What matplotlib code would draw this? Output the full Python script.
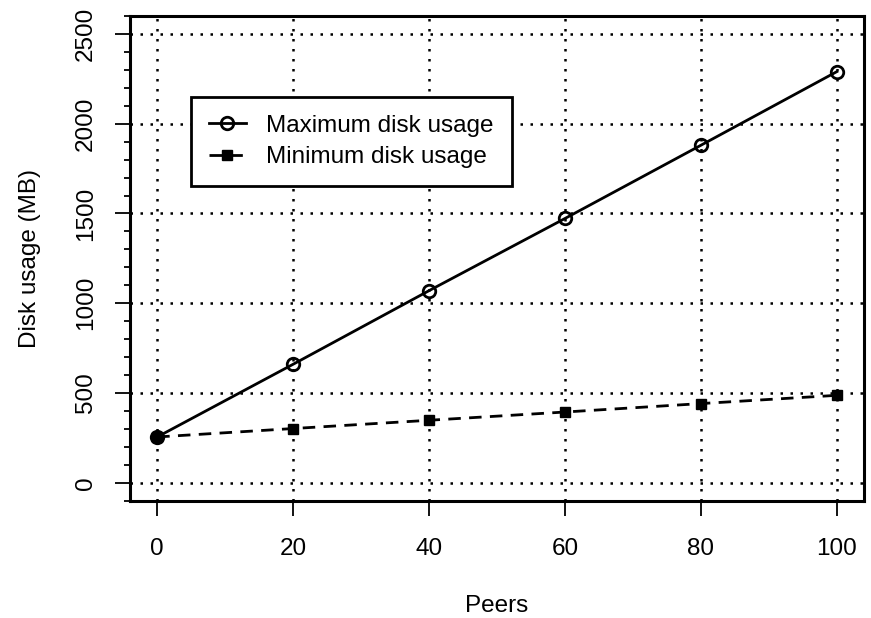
import matplotlib
matplotlib.use("Agg")
import matplotlib.pyplot as plt
from matplotlib.ticker import MultipleLocator

plt.rcParams['font.family'] = ['Liberation Sans', 'DejaVu Sans']

# data
peers = [0, 20, 40, 60, 80, 100]
max_usage = [255, 660, 1070, 1472, 1880, 2290]
min_usage = [255, 302, 348, 394, 441, 487]

x_ticks = [0, 20, 40, 60, 80, 100]
y_ticks = [0, 500, 1000, 1500, 2000, 2500]

fs = 17.5

fig = plt.figure(figsize=[8.71, 6.18], dpi=100)
ax = fig.add_axes([130/871, 1 - 500.7/618, 734/871, 484.7/618])

# dotted grid like R's grid()
dots = (0, (1, 3))
for gx in x_ticks:
    ax.axvline(gx, color='black', lw=1.8, linestyle=dots, zorder=1)
for gy in y_ticks:
    ax.axhline(gy, color='black', lw=1.8, linestyle=dots, zorder=1)

ax.plot(peers, max_usage, color='black', lw=2, marker='o', markersize=9,
        markerfacecolor='none', markeredgewidth=2, label='Maximum disk usage', zorder=3)
ax.plot(peers, min_usage, color='black', lw=2, linestyle=(0, (4.5, 3)),
        marker='s', markersize=7.5, label='Minimum disk usage', zorder=3)

ax.set_xlim(-4, 104)
ax.set_ylim(-100, 2600)
ax.set_xticks(x_ticks)
ax.set_yticks(y_ticks)
ax.yaxis.set_minor_locator(MultipleLocator(100))

ax.tick_params(axis='both', which='major', length=11, width=1.3, labelsize=fs, direction='out')
ax.tick_params(axis='y', which='minor', length=4, width=1.3)
ax.tick_params(axis='x', pad=16)
ax.tick_params(axis='y', pad=13)
for lab in ax.get_yticklabels():
    lab.set_rotation(90)
    lab.set_va('center')

for sp in ax.spines.values():
    sp.set_linewidth(2.2)

ax.set_xlabel('Peers', fontsize=fs, labelpad=25)
ax.set_ylabel('Disk usage (MB)', fontsize=fs, labelpad=24)

leg = ax.legend(loc='upper left', bbox_to_anchor=(0.083, 0.8335), borderaxespad=0,
                fancybox=False, edgecolor='black', framealpha=1, fontsize=fs,
                handlelength=1.5, handletextpad=0.85, borderpad=0.75, labelspacing=0.38)
leg.get_frame().set_linewidth(2)

fig.savefig('out.png', dpi=100)
